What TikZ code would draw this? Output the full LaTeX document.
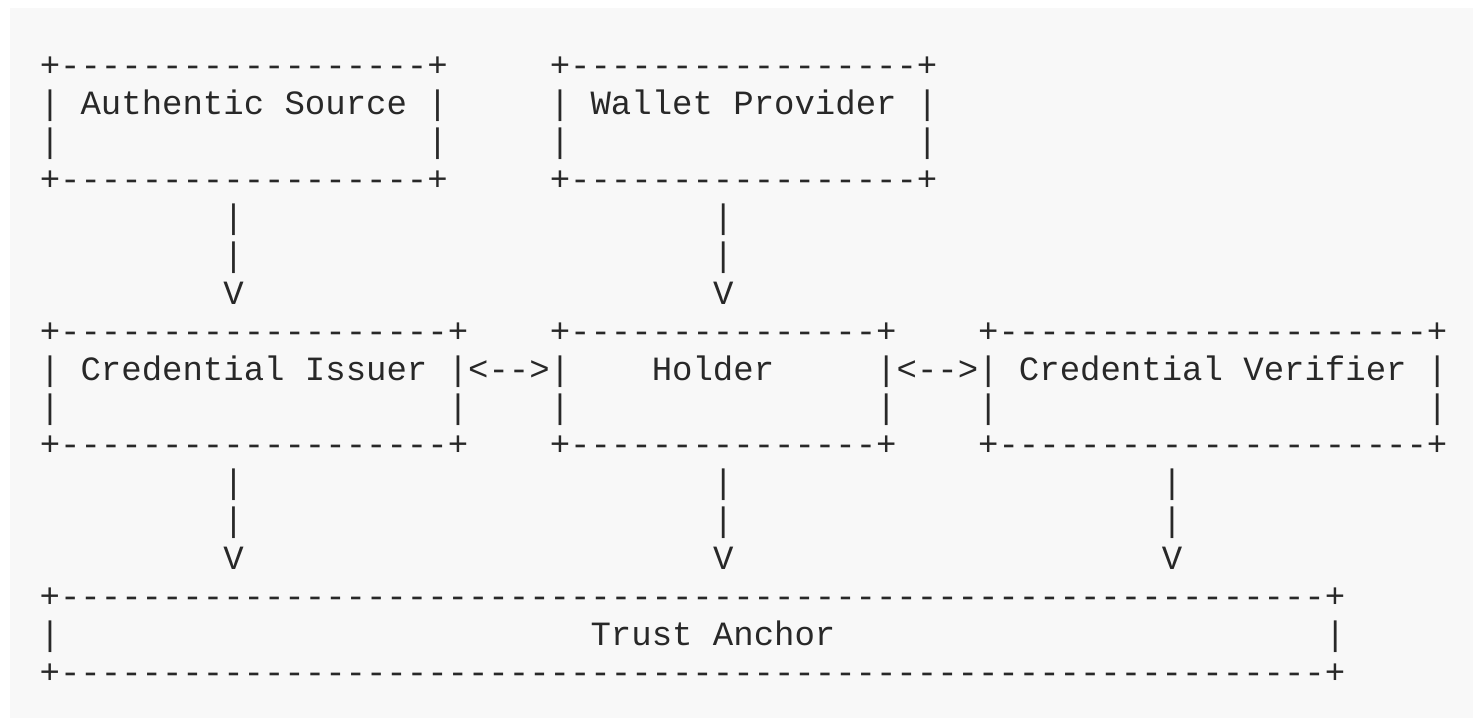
\documentclass[tikz,border=0pt]{standalone}
\usepackage{fontspec}
\newfontfamily\asciifont[Ligatures=TeXOff]{Liberation Mono}
\definecolor{panelgray}{RGB}{248,248,248}
\definecolor{inkgray}{RGB}{40,40,40}
% a horizontal edge: + n dashes +
\newcommand{\hedge}[1]{+\foreach \k in {1,...,#1}{-}+}
\tikzset{
  ascii/.style={font=\asciifont\fontsize{17}{19}\selectfont, text=inkgray,
    inner sep=0pt, text height=11pt, text depth=0pt}
}
\begin{document}
\begin{tikzpicture}[x=10.2pt, y=-18.95pt]
  % page and grey panel (one unit = one character cell)
  \useasboundingbox[fill=white] (-2.451,-1.741) rectangle (69.755,17.282);
  \fill[panelgray] (-1.961,-1.53) rectangle (69.755,17.2);

  % Authentic Source
  \node[ascii] (sourcetop) at (9.5,0) {\hedge{18}};
  \node[ascii] (source) at (9.5,1) {Authentic Source};
  \node[ascii] (sourcebot) at (9.5,3) {\hedge{18}};
  \foreach \c in {0,19} \foreach \r in {1,2} \node[ascii] (source-\c-\r) at (\c,\r) {|};

  % Wallet Provider
  \node[ascii] (wallettop) at (34,0) {\hedge{17}};
  \node[ascii] (wallet) at (34,1) {Wallet Provider};
  \node[ascii] (walletbot) at (34,3) {\hedge{17}};
  \foreach \c in {25,43} \foreach \r in {1,2} \node[ascii] (wallet-\c-\r) at (\c,\r) {|};

  % arrows down to the middle row
  \foreach \c in {9,33} {
    \node[ascii] (upper-\c-a) at (\c,4) {|};
    \node[ascii] (upper-\c-b) at (\c,5) {|};
    \node[ascii] (upper-\c-v) at (\c,6) {V};
  }

  % Credential Issuer
  \node[ascii] (issuertop) at (10,7) {\hedge{19}};
  \node[ascii] (issuer) at (10,8) {Credential Issuer};
  \node[ascii] (issuerbot) at (10,10) {\hedge{19}};
  \foreach \c in {0,20} \foreach \r in {8,9} \node[ascii] (issuer-\c-\r) at (\c,\r) {|};

  % Holder
  \node[ascii] (holdertop) at (33,7) {\hedge{15}};
  \node[ascii] (holder) at (32.5,8) {Holder};
  \node[ascii] (holderbot) at (33,10) {\hedge{15}};
  \foreach \c in {25,41} \foreach \r in {8,9} \node[ascii] (holder-\c-\r) at (\c,\r) {|};

  % Credential Verifier
  \node[ascii] (verifiertop) at (57,7) {\hedge{21}};
  \node[ascii] (verifier) at (57,8) {Credential Verifier};
  \node[ascii] (verifierbot) at (57,10) {\hedge{21}};
  \foreach \c in {46,68} \foreach \r in {8,9} \node[ascii] (verifier-\c-\r) at (\c,\r) {|};

  % two-way links
  \node[ascii] (issuerlink) at (22.5,8) {<-->};
  \node[ascii] (verifierlink) at (43.5,8) {<-->};

  % arrows down to the trust anchor
  \foreach \c in {9,33,55} {
    \node[ascii] (lower-\c-a) at (\c,11) {|};
    \node[ascii] (lower-\c-b) at (\c,12) {|};
    \node[ascii] (lower-\c-v) at (\c,13) {V};
  }

  % Trust Anchor
  \node[ascii] (anchortop) at (31.5,14) {\hedge{62}};
  \node[ascii] (anchor) at (32.5,15) {Trust Anchor};
  \node[ascii] (anchorbot) at (31.5,16) {\hedge{62}};
  \foreach \c in {0,63} \node[ascii] (anchor-\c) at (\c,15) {|};
\end{tikzpicture}
\end{document}
